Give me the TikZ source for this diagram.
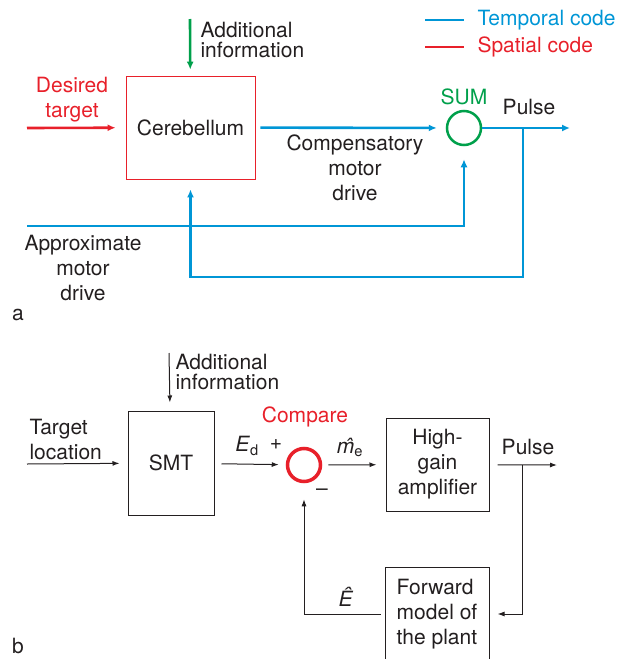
\documentclass[tikz,border=0pt]{standalone}
\usepackage{fontspec}
\setmainfont{TeX Gyre Heros}
\usetikzlibrary{arrows.meta}
\definecolor{tblue}{RGB}{0,150,214}
\definecolor{sred}{RGB}{232,32,42}
\definecolor{sgreen}{RGB}{0,160,75}
\definecolor{ink}{RGB}{35,31,32}
\begin{document}
\begin{tikzpicture}[x=1pt, y=-1pt, font=\fontsize{21}{25}\selectfont, text=ink,
  bluearrow/.style={draw=tblue, line width=2.6pt, -{Latex[length=8pt,width=7pt]}},
  blackarrow/.style={draw=ink, line width=1pt, -{Latex[length=7pt,width=5pt]}},
  box/.style={draw=ink, line width=1pt}]
\useasboundingbox (0,0) rectangle (618,659);
% a
\node (1)[draw=sred, line width=0.8pt, minimum width=129pt, minimum height=103pt] at (190.5,127.5) {Cerebellum};
\node (2)[circle, draw=sgreen, line width=2.5pt, minimum size=34pt] at (464,128) {};
\node (3)[text=sred, align=center] at (72,100) {Desired\\target};
\node (4)[anchor=west, align=left, font=\fontsize{21}{20}\selectfont] at (197,40) {Additional\\information};
\node (5)[align=center] at (355,168) {Compensatory\\motor\\drive};
\node (6)[text=sgreen] at (464,97) {SUM};
\node (7) at (529,107) {Pulse};
\node (8)[align=center] at (83,268) {Approximate\\motor\\drive};
\node (9) at (18,315) {a};
\node (10)[anchor=west, text=tblue] at (474,20) {Temporal code};
\node (11)[anchor=west, text=sred] at (474,47) {Spatial code};
\coordinate (12) at (27,128);
\coordinate (13) at (190,19);
\coordinate (14) at (570,128);
\coordinate (15) at (523,128);
\coordinate (16) at (523,277);
\coordinate (17) at (27,226);
\coordinate (18) at (425,20);
\coordinate (19) at (425,47);
\draw[draw=sred, line width=2.6pt, -{Latex[length=8pt,width=7pt]}, shorten >=10pt] (12) -- (1);
\draw[draw=sgreen, line width=2.6pt, -{Latex[length=8pt,width=7pt]}, shorten >=6pt] (13) -- (1);
\draw[bluearrow, shorten <=5pt, shorten >=9pt] (1) -- (2);
\draw[bluearrow] (2) -- (14);
\draw[bluearrow, shorten >=10pt] (15) -- (16) -| (1.south);
\draw[bluearrow, shorten >=13pt] (17) -| (2.south);
\draw[draw=tblue, line width=1.2pt, shorten >=10pt] (18) -- (10.west);
\draw[draw=sred, line width=1.2pt, shorten >=10pt] (19) -- (11.west);
% b
\node (20)[box, minimum width=86pt, minimum height=104pt] at (171,463) {SMT};
\node (21)[circle, draw=sred, line width=3.5pt, minimum size=33pt] at (304,465) {};
\node (22)[box, align=center, minimum width=103pt, minimum height=93pt] at (437.5,464.5) {High-\\gain\\amplifier};
\node (23)[box, align=left, minimum width=104pt, minimum height=94pt] at (437,614) {Forward\\model of\\the plant};
\node (24)[anchor=west, align=left, font=\fontsize{21}{20}\selectfont] at (172,372) {Additional\\information};
\node (25)[anchor=west, align=left] at (26,439) {Target\\location};
\node (26) at (247,446) {\textit{E}\textsubscript{d}};
\node (27) at (276,445) {+};
\node (28)[text=sred] at (305,417) {Compare};
\node (29) at (350,447) {\textit{\^{m}}\textsubscript{e}};
\node (30) at (322,492) {\textendash};
\node (31) at (528,447) {Pulse};
\node (32) at (346,597) {\textit{Ê}};
\node (33) at (18,646) {b};
\coordinate (34) at (169,353);
\coordinate (35) at (27,464);
\coordinate (36) at (557,465);
\coordinate (37) at (522,465);
\draw[blackarrow, shorten >=8pt] (34) -- (20);
\draw[blackarrow, shorten >=8pt] (35) -- (20);
\draw[blackarrow, shorten <=7pt, shorten >=7pt] (20) -- (21);
\draw[blackarrow, shorten <=6pt, shorten >=9pt] (21) -- (22);
\draw[blackarrow, shorten <=8pt] (22) -- (36);
\draw[blackarrow, shorten >=8pt] (37) |- (23.east);
\draw[blackarrow, shorten <=4pt, shorten >=16pt] (23.west) -| (21.south);
\end{tikzpicture}
\end{document}
